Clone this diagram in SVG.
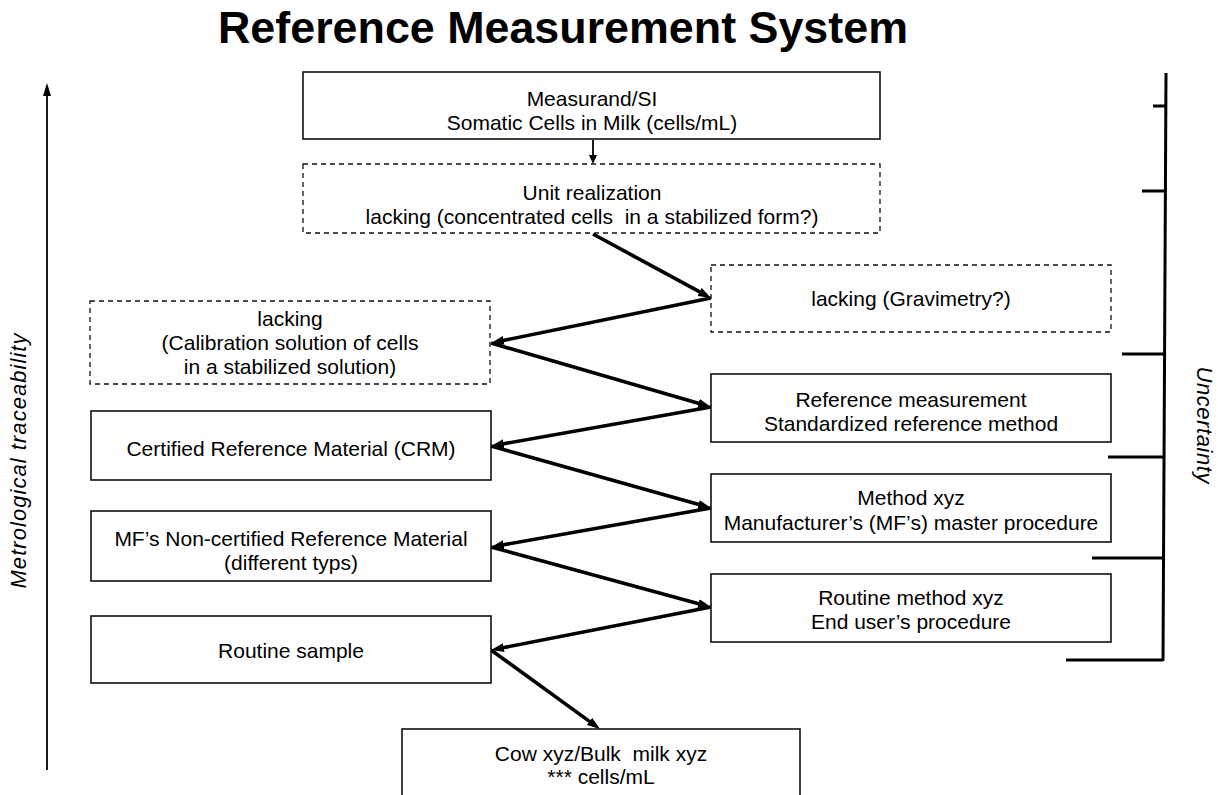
<svg xmlns="http://www.w3.org/2000/svg" width="1218" height="795" viewBox="0 0 1218 795">
<defs>
<style>
text{font-family:"Liberation Sans",Arial,sans-serif;font-size:21px;fill:#000;text-anchor:middle}
.title{font-size:44px;font-weight:bold}
.side{font-size:22px;font-style:italic}
.box{fill:#fff;stroke:#111;stroke-width:1.6}
.dash{fill:#fff;stroke:#111;stroke-width:1.3;stroke-dasharray:5 4}
.conn{stroke:#000;stroke-width:3.6;fill:none;marker-end:url(#tri)}
.thin{stroke:#000;stroke-width:1.8;fill:none}
.brk{stroke:#000;stroke-width:3;fill:none}
</style>
<marker id="tri" viewBox="0 0 13 10" refX="6" refY="5" markerWidth="13" markerHeight="10" markerUnits="userSpaceOnUse" orient="auto">
<path d="M0,0.5 L13,5 L0,9.5 Z" fill="#000"/>
</marker>
</defs>
<rect width="1218" height="795" fill="#fff"/>
<text class="title" x="563" y="43" textLength="690" lengthAdjust="spacingAndGlyphs">Reference Measurement System</text>

<g id="traceability-axis">
<line class="thin" x1="47" y1="770" x2="47" y2="94" stroke-width="2.4"/>
<polygon points="47,83 43,96 51,96" fill="#000"/>
<text class="side" transform="translate(26,461) rotate(-90)" textLength="255" lengthAdjust="spacing">Metrological traceability</text>
</g>

<g id="uncertainty-bracket">
<path class="brk" d="M1166,73 L1163,661"/>
<path class="brk" d="M1153,106 H1166 M1142,191 H1166 M1122,354 H1165 M1108,457 H1164 M1092,558 H1164 M1066,660 H1163"/>
<text class="side" transform="translate(1197,425) rotate(90)" textLength="117" lengthAdjust="spacing">Uncertainty</text>
</g>

<g id="connectors">
<line class="thin" x1="593" y1="140" x2="593" y2="157"/>
<polygon points="593,164 589,155 597,155" fill="#000"/>
<line class="conn" x1="593" y1="234" x2="704.8" y2="294.7"/>
<line class="conn" x1="711" y1="298" x2="497.9" y2="341.6"/>
<line class="conn" x1="491" y1="343" x2="704.3" y2="405.0"/>
<line class="conn" x1="711" y1="407" x2="497.9" y2="444.8"/>
<line class="conn" x1="491" y1="446" x2="704.3" y2="506.1"/>
<line class="conn" x1="711" y1="508" x2="497.9" y2="545.8"/>
<line class="conn" x1="491" y1="547" x2="704.2" y2="605.2"/>
<line class="conn" x1="711" y1="607" x2="497.9" y2="648.7"/>
<line class="conn" x1="491" y1="650" x2="594.3" y2="724.9"/>
</g>

<g id="measurand">
<rect class="box" x="303" y="72" width="577" height="67"/>
<text x="592" y="106">Measurand/SI</text>
<text x="592" y="130">Somatic Cells in Milk (cells/mL)</text>
</g>

<g id="unit-realization">
<rect class="dash" x="303" y="164" width="577" height="69"/>
<text x="592" y="200">Unit realization</text>
<text x="592" y="224" style="white-space:pre">lacking (concentrated cells  in a stabilized form?)</text>
</g>

<g id="gravimetry">
<rect class="dash" x="711" y="265" width="400" height="67"/>
<text x="911" y="306">lacking (Gravimetry?)</text>
</g>

<g id="calibration-solution">
<rect class="dash" x="90" y="301" width="400" height="83"/>
<text x="290" y="326">lacking</text>
<text x="290" y="350">(Calibration solution of cells</text>
<text x="290" y="374">in a stabilized solution)</text>
</g>

<g id="reference-measurement">
<rect class="box" x="711" y="374" width="400" height="68"/>
<text x="911" y="407">Reference measurement</text>
<text x="911" y="431">Standardized reference method</text>
</g>

<g id="crm">
<rect class="box" x="91" y="411" width="400" height="69"/>
<text x="291" y="456">Certified Reference Material (CRM)</text>
</g>

<g id="method-xyz">
<rect class="box" x="711" y="474" width="400" height="68"/>
<text x="911" y="505">Method xyz</text>
<text x="911" y="530">Manufacturer’s (MF’s) master procedure</text>
</g>

<g id="mf-material">
<rect class="box" x="91" y="511" width="400" height="70"/>
<text x="291" y="546">MF’s Non-certified Reference Material</text>
<text x="291" y="570">(different typs)</text>
</g>

<g id="routine-method">
<rect class="box" x="711" y="574" width="400" height="68"/>
<text x="911" y="605">Routine method xyz</text>
<text x="911" y="629">End user’s procedure</text>
</g>

<g id="routine-sample">
<rect class="box" x="91" y="616" width="400" height="67"/>
<text x="291" y="658">Routine sample</text>
</g>

<g id="cow-bulk-milk">
<rect class="box" x="402" y="729" width="398" height="80"/>
<text x="601" y="761" style="white-space:pre">Cow xyz/Bulk  milk xyz</text>
<text x="601" y="784">*** cells/mL</text>
</g>
</svg>
